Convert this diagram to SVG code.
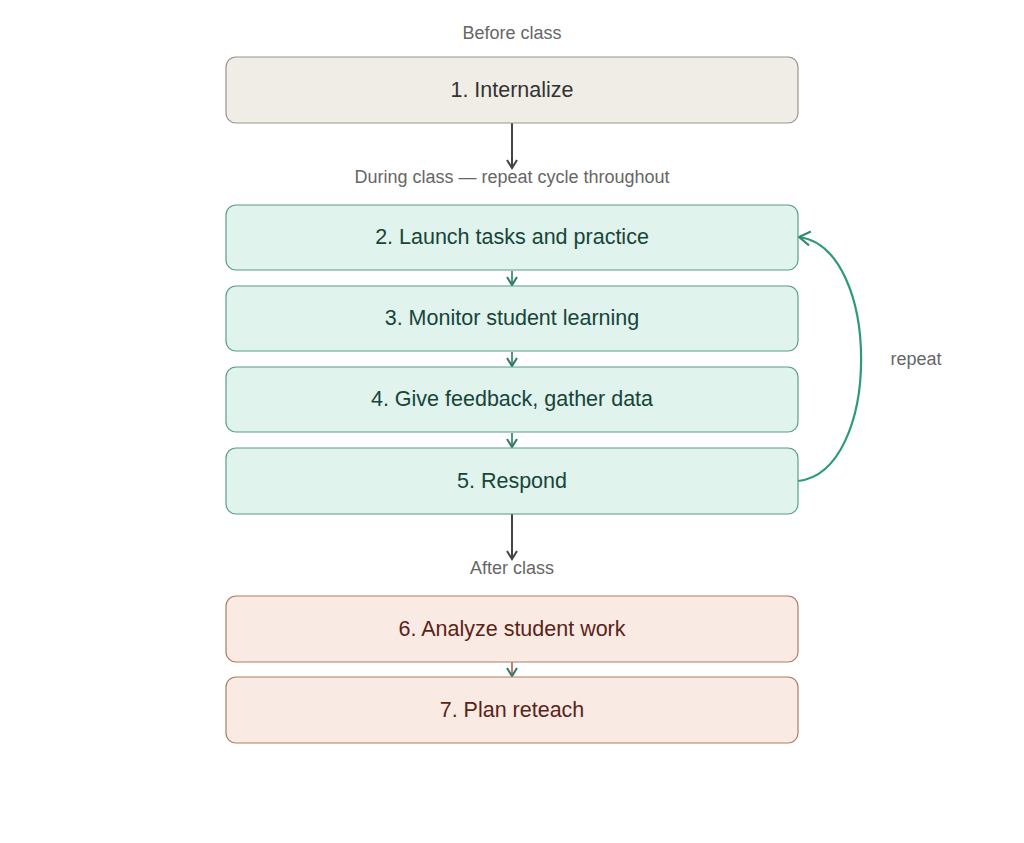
<svg xmlns="http://www.w3.org/2000/svg" width="1024" height="843" viewBox="0 0 1024 843">
<defs>
<style>
.sec{font-family:"Liberation Sans",Arial,sans-serif;font-size:18px;fill:#666;text-anchor:middle}
.lbl{font-family:"Liberation Sans",Arial,sans-serif;font-size:21.5px;text-anchor:middle;dominant-baseline:central}
.n1 rect{fill:#f0ede6;stroke:#999590;stroke-width:1.2}
.n1 text{fill:#333}
.ng rect{fill:#e0f3ec;stroke:#5a9e86;stroke-width:1.2}
.ng text{fill:#17453a}
.np rect{fill:#f9eae4;stroke:#b07a66;stroke-width:1.2}
.np text{fill:#5a2418}
</style>
<marker id="ad" viewBox="0 0 12 12" refX="10" refY="6" markerWidth="12" markerHeight="12" markerUnits="userSpaceOnUse" orient="auto">
<path d="M2,1 L10,6 L2,11" fill="none" stroke="#444" stroke-width="2"/>
</marker>
<marker id="ag" viewBox="0 0 12 12" refX="10" refY="6" markerWidth="12" markerHeight="12" markerUnits="userSpaceOnUse" orient="auto">
<path d="M2,1 L10,6 L2,11" fill="none" stroke="#2d7a62" stroke-width="2"/>
</marker>
<marker id="ar" viewBox="0 0 16 16" refX="14" refY="8" markerWidth="16" markerHeight="16" markerUnits="userSpaceOnUse" orient="auto">
<path d="M3,1 L14,8 L3,15" fill="none" stroke="#2d8a6e" stroke-width="2"/>
</marker>
</defs>
<rect width="1024" height="843" fill="#fff"/>
<text class="sec" x="512" y="39">Before class</text>
<text class="sec" x="512" y="183">During class — repeat cycle throughout</text>
<text class="sec" x="512" y="574">After class</text>
<text class="sec" x="916" y="365">repeat</text>
<g id="connectors">
<line x1="512" y1="123" x2="512" y2="168" stroke="#444" stroke-width="2" marker-end="url(#ad)"/>
<line x1="512" y1="271" x2="512" y2="285" stroke="#2d7a62" stroke-width="1.6" marker-end="url(#ag)"/>
<line x1="512" y1="352" x2="512" y2="366" stroke="#2d7a62" stroke-width="1.6" marker-end="url(#ag)"/>
<line x1="512" y1="433" x2="512" y2="447" stroke="#2d7a62" stroke-width="1.6" marker-end="url(#ag)"/>
<line x1="512" y1="514" x2="512" y2="559" stroke="#444" stroke-width="2" marker-end="url(#ad)"/>
<line x1="512" y1="662" x2="512" y2="676" stroke="#b0604a" stroke-width="1.6" marker-end="url(#ag)"/>
<path d="M798,481 C882,472 882,248 799,237" fill="none" stroke="#2d9a78" stroke-width="2.2" marker-end="url(#ar)"/>
</g>
<g id="n1" class="n1"><rect x="226" y="57" width="572" height="66" rx="10"/><text class="lbl" x="512" y="90">1. Internalize</text></g>
<g id="n2" class="ng"><rect x="226" y="205" width="572" height="65" rx="10"/><text class="lbl" x="512" y="237">2. Launch tasks and practice</text></g>
<g id="n3" class="ng"><rect x="226" y="286" width="572" height="65" rx="10"/><text class="lbl" x="512" y="318">3. Monitor student learning</text></g>
<g id="n4" class="ng"><rect x="226" y="367" width="572" height="65" rx="10"/><text class="lbl" x="512" y="399">4. Give feedback, gather data</text></g>
<g id="n5" class="ng"><rect x="226" y="448" width="572" height="66" rx="10"/><text class="lbl" x="512" y="481">5. Respond</text></g>
<g id="n6" class="np"><rect x="226" y="596" width="572" height="66" rx="10"/><text class="lbl" x="512" y="629">6. Analyze student work</text></g>
<g id="n7" class="np"><rect x="226" y="677" width="572" height="66" rx="10"/><text class="lbl" x="512" y="710">7. Plan reteach</text></g>
</svg>
